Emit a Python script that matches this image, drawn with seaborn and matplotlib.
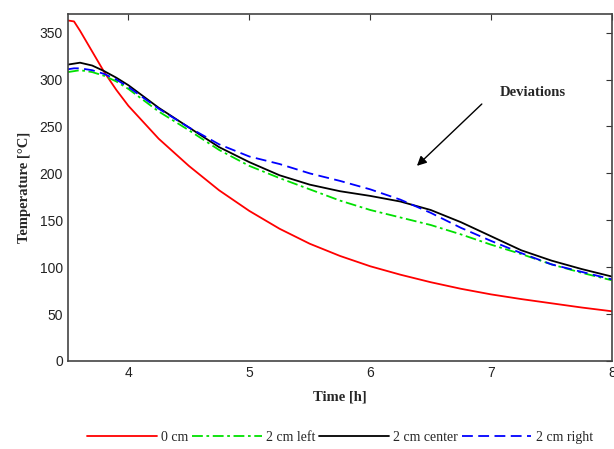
import numpy as np
import pandas as pd
import matplotlib
matplotlib.use("Agg")
import matplotlib.pyplot as plt
import seaborn as sns

# values
time_h = [3.5, 3.55, 3.6, 3.7, 3.8, 3.9, 4.0, 4.25, 4.5, 4.75, 5.0, 5.25,
          5.5, 5.75, 6.0, 6.25, 6.5, 6.75, 7.0, 7.25, 7.5, 7.75, 8.0]
t_0cm = [363, 362, 352, 330, 308, 289, 272, 237, 208, 182, 160, 141,
         125, 112, 101, 92, 84, 77, 71, 66, 61.5, 57, 53]
t_left = [308, 309, 310, 308, 304, 298, 290, 266, 246, 225, 208, 195,
          183, 171, 161, 153, 145, 135, 124, 114, 103, 94, 86]
t_center = [316, 317, 318, 315, 309, 302, 294, 270, 249, 228, 212, 198,
            188, 181, 176, 170, 161, 148, 133, 118, 107, 98, 90]
t_right = [311, 312, 312, 310, 306, 300, 292, 269, 249, 231, 218, 210,
           200, 192, 183, 172, 158, 142, 128, 115, 103, 95, 87]

series = {
    "0 cm": t_0cm,
    "2 cm left": t_left,
    "2 cm center": t_center,
    "2 cm right": t_right,
}
colors = ["#ff0000", "#00e000", "#000000", "#0000ff"]
dashes = [(None, None), (6, 2, 1.5, 2), (None, None), (6, 3)]

sns.set_style("white")
plt.rcParams["font.family"] = ["Liberation Sans", "DejaVu Sans"]

fig = plt.figure(figsize=(6.14, 4.49), dpi=100)
ax = fig.add_axes([0.1107, 0.196, 0.886, 0.773])

for (name, vals), c, d in zip(series.items(), colors, dashes):
    df = pd.DataFrame({"time": time_h, "temp": vals})
    sns.lineplot(data=df, x="time", y="temp", ax=ax, color=c,
                 linewidth=1.3, label=name)
    l = ax.get_lines()[-1]
    if d[0] is not None:
        l.set_dashes(d)

ax.set_xlim(3.5, 8)
ax.set_ylim(0, 370)
ax.set_xticks([4, 5, 6, 7, 8])
ax.set_yticks(np.arange(0, 351, 50))
ax.tick_params(direction="in", length=4, top=True, right=True,
               labelsize=10, colors="#333333", labelcolor="#222222")
for s in ax.spines.values():
    s.set_color("#444444")
    s.set_linewidth(1.2)

serif = ["Liberation Serif", "DejaVu Serif"]
ax.set_xlabel("Time [h]", family=serif, fontweight="bold", fontsize=10.5,
              labelpad=8)
ax.set_ylabel("Temperature [°C]", family=serif, fontweight="bold",
              fontsize=10.5, labelpad=6)

ax.annotate("", xy=(6.37, 206), xytext=(6.94, 276),
            arrowprops=dict(arrowstyle="-|>", color="black", lw=1,
                            mutation_scale=14))
ax.text(7.07, 286, "Deviations", family=serif, fontweight="bold",
        fontsize=10.5, va="center", ha="left")

ax.legend(loc="upper center", bbox_to_anchor=(0.5, -0.165), ncol=4,
          frameon=False, prop={"family": serif, "size": 10},
          handlelength=5, columnspacing=0.3, handletextpad=0.3)

fig.savefig("out.png", dpi=100)
